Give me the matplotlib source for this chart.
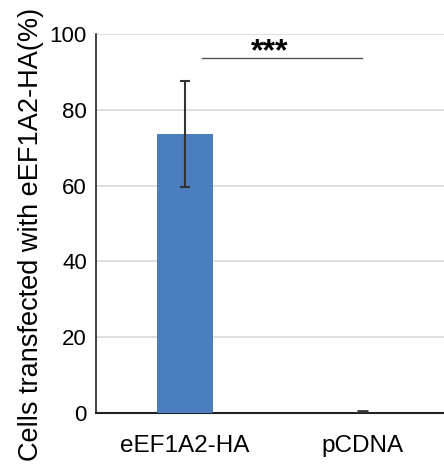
import matplotlib.pyplot as plt
import numpy as np

plt.rcParams['font.family'] = ['Liberation Sans', 'DejaVu Sans']

groups = ["eEF1A2-HA", "pCDNA"]
means = [73.5, 0.0]
errs = [14.0, 0.0]
sigLabel = "***"

fig = plt.figure(figsize=(4.44, 4.69), dpi=100)
ax = fig.add_axes([0.216, 0.1194, 0.784, 0.8081])

x = np.arange(len(groups))
ax.bar(x, means, width=0.31, color='#4a7ebf', edgecolor='#3f6fa8', linewidth=0.6, zorder=3)
ax.errorbar(x[:1], means[:1], yerr=errs[:1], fmt='none', ecolor='#333333',
            elinewidth=1.5, capsize=3.5, capthick=1.5, zorder=4)
# tiny mark for the near-zero group
ax.errorbar(x[1:], [0.4], xerr=0.03, fmt='none', ecolor='#333333', elinewidth=2, zorder=4)

ax.set_ylim(0, 100)
ax.set_xlim(-0.5, 1.46)
ax.set_yticks([0, 20, 40, 60, 80, 100])
ax.set_xticks(x)
ax.set_xticklabels(groups, fontsize=17.5)
ax.tick_params(axis='y', labelsize=16, length=0, pad=6.5)
ax.tick_params(axis='x', length=0, pad=16)
ax.yaxis.grid(True, color='#d9d9d9', linewidth=1.2, zorder=0)
ax.set_axisbelow(True)

for s in ['top', 'right']:
    ax.spines[s].set_visible(False)
ax.spines['left'].set_color('#222222')
ax.spines['bottom'].set_color('#222222')
ax.spines['left'].set_linewidth(1.2)
ax.spines['bottom'].set_linewidth(1.5)

fig.text(31 / 444, 1 - 234 / 469, "Cells transfected with eEF1A2-HA(%)", rotation=90,
         ha='center', va='center', fontsize=19.5)

# significance bar
ax.plot([0.1, 1.0], [93.6, 93.6], color='#555555', linewidth=1, zorder=4)
ax.text(0.48, 91.2, sigLabel, ha='center', va='bottom', fontsize=23, fontweight='bold')

fig.savefig("out.png", dpi=100)
